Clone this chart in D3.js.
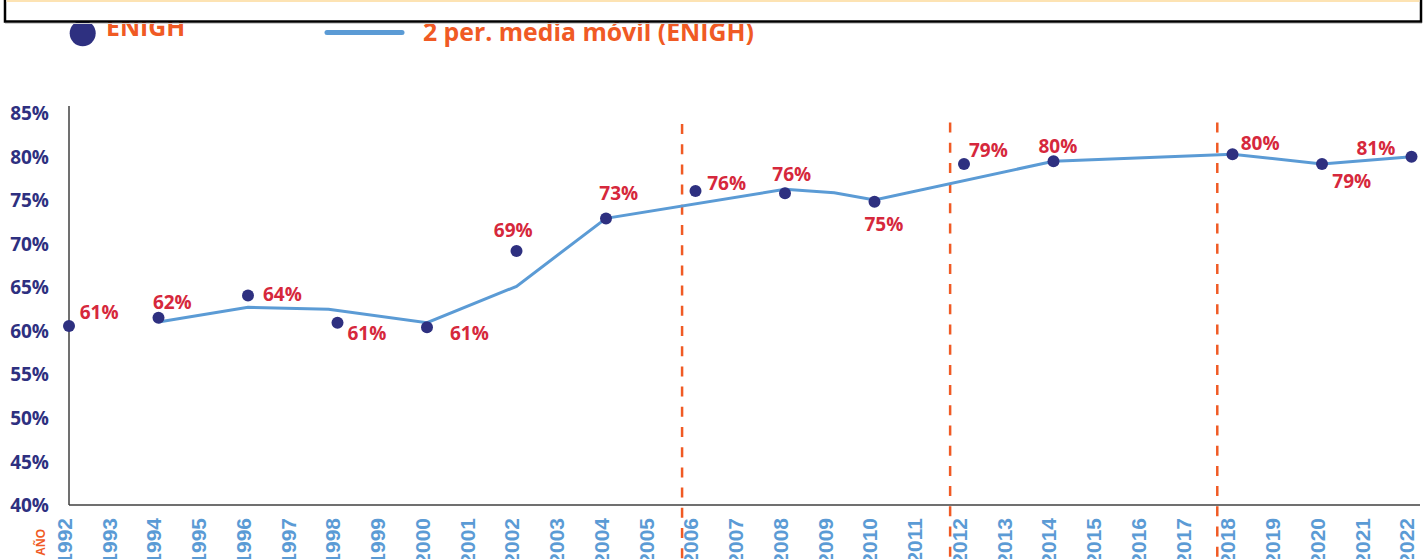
<!DOCTYPE html>
<html>
<head>
<meta charset="utf-8">
<script src="https://cdn.jsdelivr.net/npm/d3@7"></script>
<style>
	body { margin: 0; background: #fff; overflow: hidden; }
	svg { display: block; }
	.ytick text { font-family: "Open Sans", sans-serif; font-weight: 700; font-size: 19px; fill: #2e3080; }
	.xtick text { font-family: "Liberation Sans", Arial, sans-serif; font-weight: 700; font-size: 21px; fill: #5b9bd5; }
	.label { font-family: "Open Sans", sans-serif; font-weight: 700; font-size: 19px; fill: #d6283c; }
	.legend { font-family: "Open Sans", sans-serif; font-weight: 700; font-size: 24.8px; fill: #f05a24; }
</style>
</head>
<body>
<script>
// years on the category axis
var years = [1992, 1993, 1994, 1995, 1996, 1997, 1998, 1999, 2000, 2001, 2002,
	2003, 2004, 2005, 2006, 2007, 2008, 2009, 2010, 2011, 2012, 2013, 2014,
	2015, 2016, 2017, 2018, 2019, 2020, 2021, 2022];

// ENIGH survey points (%)
var enighYears = [1992, 1994, 1996, 1998, 2000, 2002, 2004, 2006, 2008, 2010, 2012, 2014, 2018, 2020, 2022];
var enighValues = [60.55, 61.5, 64.05, 60.93, 60.4, 69.16, 72.9, 76.05, 75.78, 74.82, 79.15, 79.46, 80.26, 79.15, 79.98];
var enighLabels = [61, 62, 64, 61, 61, 69, 73, 76, 76, 75, 79, 80, 80, 79, 81];

// 2 per. moving average line, vertices
var mavgYears = [1994, 1996, 1997.8, 2000, 2002, 2004, 2008, 2009.1, 2010, 2014, 2018, 2020, 2022];
var mavgValues = [61.0, 62.7, 62.47, 60.93, 65.1, 72.91, 76.24, 75.85, 75.01, 79.46, 80.26, 79.15, 79.98];

// vertical dashed separators
var breakYears = [2005.7, 2011.69, 2017.66];

var yTicks = [40, 45, 50, 55, 60, 65, 70, 75, 80, 85];

// label placement (dx, dy from the dot)
var labelOffsets = [[10.7, -6.7], [-5.6, -8.4], [15, 5.7], [10, 17.3], [23, 12.7], [-22.7, -14.3],
	[-6.7, -18.3], [11.7, -1], [-12.7, -12.3], [-10, 29.3], [5, -7.3], [-15, -8.6],
	[8.2, -4.3], [10.3, 23.7], [-55, -1.7]];

var w = 1428;
var h = 559;

var svg = d3.select("body")
	.append("svg")
	.attr("width", w)
	.attr("height", h);

var x = d3.scaleLinear()
	.domain([1992, 2022])
	.range([69, 1411.5]);

var y = d3.scaleLinear()
	.domain([40, 85])
	.range([505, 113]);

// y axis
var yAxis = d3.axisLeft(y)
	.tickValues(yTicks)
	.tickSize(0)
	.tickPadding(20)
	.tickFormat(d => d + "%");

svg.append("g")
	.attr("class", "ytick")
	.attr("transform", "translate(69,0)")
	.call(yAxis)
	.call(g => g.select(".domain").remove())
	.selectAll("text")
	.attr("dy", "0.35em");

// x axis
var xAxis = d3.axisBottom(x)
	.tickValues(years)
	.tickSize(0)
	.tickFormat(d3.format("d"));

svg.append("g")
	.attr("class", "xtick")
	.attr("transform", "translate(0,505)")
	.call(xAxis)
	.call(g => g.select(".domain").remove())
	.selectAll("text")
	.attr("transform", "rotate(-90)")
	.attr("text-anchor", "end")
	.attr("x", -13)
	.attr("y", -5)
	.attr("dy", "0.35em");

svg.append("text")
	.text("AÑO")
	.attr("transform", "translate(41,529) rotate(-90)")
	.attr("text-anchor", "end")
	.attr("dy", "0.35em")
	.attr("font-family", "Liberation Sans, Arial, sans-serif")
	.attr("font-weight", 700)
	.attr("font-size", "12px")
	.attr("fill", "#f05a24");

// axis lines
svg.append("line")
	.attr("x1", 69).attr("x2", 69)
	.attr("y1", 106).attr("y2", 505)
	.attr("stroke", "#404040")
	.attr("stroke-width", 1.5);

svg.append("line")
	.attr("x1", 69).attr("x2", 1420)
	.attr("y1", 505).attr("y2", 505)
	.attr("stroke", "#404040")
	.attr("stroke-width", 1.5);

// dashed separators
svg.selectAll("line.brk")
	.data(breakYears)
	.enter()
	.append("line")
	.attr("class", "brk")
	.attr("x1", d => x(d)).attr("x2", d => x(d))
	.attr("y1", (d, i) => i == 0 ? 124 : 122.5)
	.attr("y2", h)
	.attr("stroke", "#f05a24")
	.attr("stroke-width", 2.5)
	.attr("stroke-dasharray", "10,10.2");

// moving average line
var line = d3.line()
	.x((d, i) => x(mavgYears[i]))
	.y(d => y(d));

svg.append("path")
	.datum(mavgValues)
	.attr("d", line)
	.attr("fill", "none")
	.attr("stroke", "#5b9bd5")
	.attr("stroke-width", 3);

// dots
svg.selectAll("circle.dot")
	.data(enighValues)
	.enter()
	.append("circle")
	.attr("class", "dot")
	.attr("cx", (d, i) => x(enighYears[i]))
	.attr("cy", d => y(d))
	.attr("r", 6)
	.attr("fill", "#2e3080");

// data labels
svg.selectAll("text.label")
	.data(enighValues)
	.enter()
	.append("text")
	.attr("class", "label")
	.attr("x", (d, i) => x(enighYears[i]) + labelOffsets[i][0])
	.attr("y", (d, i) => y(d) + labelOffsets[i][1])
	.text((d, i) => enighLabels[i] + "%");

// legend
svg.append("circle")
	.attr("cx", 82.7)
	.attr("cy", 33.3)
	.attr("r", 13)
	.attr("fill", "#2e3080");

svg.append("text")
	.attr("class", "legend")
	.attr("x", 106)
	.attr("y", 36)
	.text("ENIGH");

svg.append("line")
	.attr("x1", 327).attr("x2", 402)
	.attr("y1", 32.5).attr("y2", 32.5)
	.attr("stroke", "#5b9bd5")
	.attr("stroke-width", 5)
	.attr("stroke-linecap", "round");

svg.append("text")
	.attr("class", "legend")
	.attr("x", 423)
	.attr("y", 41)
	.text("2 per. media móvil (ENIGH)");

// box at the top, drawn over the legend
svg.append("rect")
	.attr("x", 5)
	.attr("y", -10)
	.attr("width", 1416)
	.attr("height", 31.5)
	.attr("fill", "#fff")
	.attr("stroke", "#000")
	.attr("stroke-width", 2.5);

svg.append("line")
	.attr("x1", 6.5).attr("x2", 1419.5)
	.attr("y1", 1).attr("y2", 1)
	.attr("stroke", "#fde3b3")
	.attr("stroke-width", 2);

svg.append("line")
	.attr("x1", 5).attr("x2", 1422)
	.attr("y1", 23.5).attr("y2", 23.5)
	.attr("stroke", "#d0d0d0")
	.attr("stroke-width", 1);
</script>
</body>
</html>
